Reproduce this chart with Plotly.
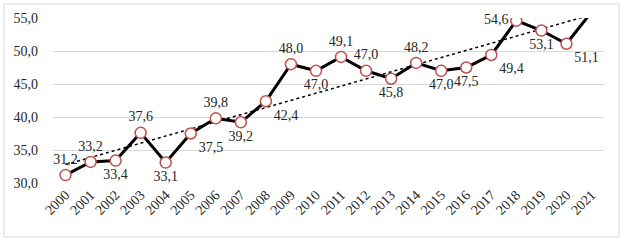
import numpy as np
import plotly.graph_objects as go

years = [str(y) for y in range(2000, 2022)]
values = [31.2, 33.2, 33.4, 37.6, 33.1, 37.5, 39.8, 39.2, 42.4, 48.0, 47.0,
          49.1, 47.0, 45.8, 48.2, 47.0, 47.5, 49.4, 54.6, 53.1, 51.1, 55.9]
y_ticks = [30, 35, 40, 45, 50, 55]
y_tick_text = ["30,0", "35,0", "40,0", "45,0", "50,0", "55,0"]

labels = [f"{v:.1f}".replace(".", ",") for v in values]
labels[-1] = ""
positions = ["top center", "top center", "bottom center", "top center", "bottom center",
             "bottom right", "top center", "bottom center", "bottom right", "top center",
             "bottom center", "top center", "top center", "bottom center", "top center",
             "bottom center", "bottom center", "bottom right", "middle left", "bottom center",
             "bottom right", "bottom center"]

idx = np.arange(len(values))
slope, intercept = np.polyfit(idx, values, 1)
trend = slope * idx + intercept

font = dict(family="Liberation Serif", size=14, color="#262626")

fig = go.Figure()
fig.add_trace(go.Scatter(
    x=years, y=trend, mode="lines",
    line=dict(color="black", width=1.5, dash="dot"),
    hoverinfo="skip", showlegend=False))
fig.add_trace(go.Scatter(
    x=years, y=values, mode="lines+markers",
    line=dict(color="black", width=3),
    marker=dict(size=11, color="white", line=dict(color="#C0504D", width=1.5)),
    cliponaxis=True, showlegend=False))
fig.add_trace(go.Scatter(
    x=years, y=values, mode="markers+text",
    marker=dict(size=11, color="rgba(0,0,0,0)"),
    text=labels, textposition=positions, textfont=font,
    cliponaxis=False, hoverinfo="skip", showlegend=False))

fig.update_layout(
    width=624, height=243,
    margin=dict(l=53, r=20, t=18, b=60),
    paper_bgcolor="white", plot_bgcolor="white",
    font=font,
    shapes=[dict(type="rect", xref="paper", yref="paper",
                 x0=(4 - 53) / 551, x1=(619 - 53) / 551,
                 y0=-(237 - 183) / 165, y1=1 + (18 - 4) / 165,
                 line=dict(color="#D9D9D9", width=1), layer="below")],
)
fig.update_xaxes(type="category", showgrid=False, showline=False, ticks="",
                 tickangle=-45, tickfont=font, range=[-0.5, len(years) - 0.5])
fig.update_yaxes(range=[30, 55], tickvals=y_ticks, ticktext=y_tick_text,
                 showgrid=True, gridcolor="#D9D9D9", gridwidth=1,
                 zeroline=False, showline=False, ticks="", tickfont=font,
                 ticklabelstandoff=14)

fig.write_html("out.html", config={"displayModeBar": False},
               post_script="document.body.style.margin='0';")
